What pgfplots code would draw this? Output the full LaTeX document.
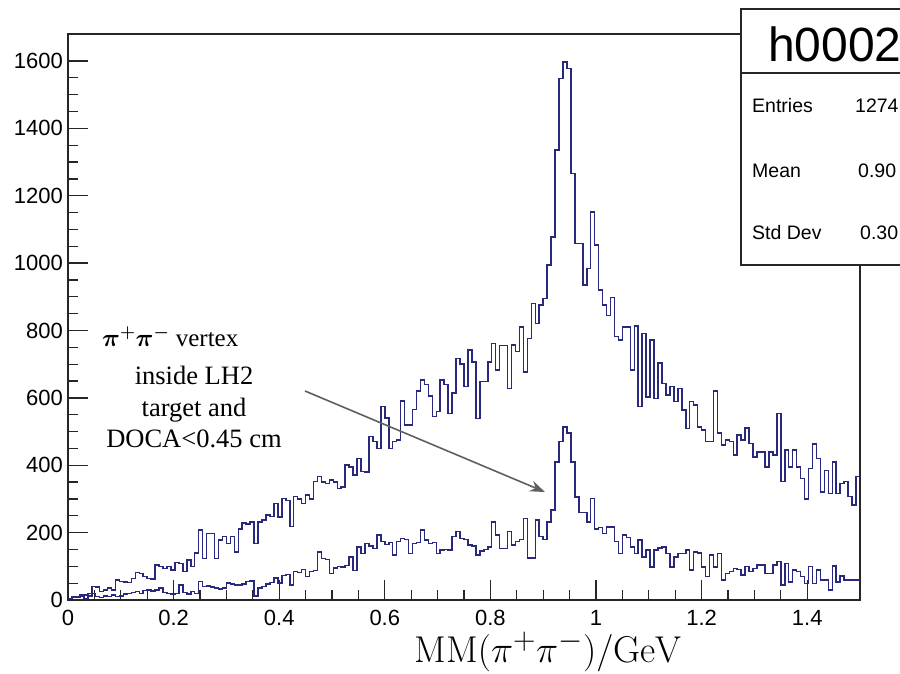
\documentclass[border=0pt]{standalone}
\usepackage{fontspec}
\usepackage{graphicx}
\usepackage{pgfplots}
\usepackage{pgfplotstable}
\pgfplotsset{compat=1.18}
\usetikzlibrary{arrows.meta}
\newfontfamily\arial{Liberation Sans}
\newfontfamily\serifnote{Liberation Serif}
\definecolor{histblue}{RGB}{40,40,125}
\definecolor{arrowgray}{RGB}{95,95,95}

\pgfplotstableread{
x a b
0 5 5
0.0075 8 10
0.015 10 8
0.0225 12 15
0.03 15 5
0.0375 20 12
0.045 40 20
0.0525 38 10
0.06 25 8
0.0675 30 12
0.075 35 10
0.0825 30 15
0.09 59 10
0.0975 55 12
0.105 54 18
0.1125 52 20
0.12 64 22
0.1275 81 25
0.135 78 20
0.1425 69 28
0.15 64 30
0.1575 62 26
0.165 104 30
0.1725 100 35
0.18 94 22
0.1875 99 20
0.195 89 18
0.2025 111 20
0.21 108 45
0.2175 85 22
0.225 119 18
0.2325 100 25
0.24 140 20
0.2475 208 55
0.255 123 40
0.2625 198 42
0.27 198 38
0.2775 123 35
0.285 178 33
0.2925 188 36
0.3 168 50
0.3075 188 48
0.315 143 45
0.3225 210 44
0.33 228 47
0.3375 225 55
0.345 232 57
0.3525 168 12
0.36 232 35
0.3675 238 40
0.375 252 48
0.3825 248 52
0.39 287 65
0.3975 247 50
0.405 302 72
0.4125 295 75
0.42 218 45
0.4275 307 85
0.435 300 82
0.4425 287 90
0.45 312 70
0.4575 300 85
0.465 351 88
0.4725 366 143
0.48 350 123
0.4875 346 120
0.495 356 78
0.5025 350 95
0.51 331 100
0.5175 335 98
0.525 400 102
0.5325 395 128
0.54 371 88
0.5475 420 158
0.555 381 138
0.5625 380 168
0.57 485 160
0.5775 470 153
0.585 450 193
0.5925 574 173
0.6 540 165
0.6075 450 170
0.615 470 133
0.6225 475 173
0.63 590 183
0.6375 520 180
0.645 520 138
0.6525 565 168
0.66 620 170
0.6675 653 208
0.675 640 178
0.6825 605 168
0.69 544 170
0.6975 560 138
0.705 653 148
0.7125 640 150
0.72 554 149
0.7275 614 188
0.735 717 203
0.7425 700 183
0.75 633 180
0.7575 742 163
0.765 706 160
0.7725 539 134
0.78 648 145
0.7875 648 150
0.795 706 158
0.8025 762 232
0.81 683 193
0.8175 755 153
0.825 755 153
0.8325 628 203
0.84 757 163
0.8475 737 173
0.855 811 180
0.8625 677 242
0.87 776 124
0.8775 880 124
0.885 821 237
0.8925 875 188
0.9 895 180
0.9075 994 232
0.915 1078 267
0.9225 1335 410
0.93 1548 470
0.9375 1597 514
0.945 1578 496
0.9525 1266 410
0.96 1058 306
0.9675 1058 259
0.975 935 259
0.9825 984 232
0.99 1152 302
0.9975 1053 210
1.005 920 215
1.0125 875 198
1.02 845 217
1.0275 898 217
1.035 782 173
1.0425 772 138
1.05 811 193
1.0575 811 185
1.065 682 158
1.0725 813 138
1.08 574 178
1.0875 791 128
1.095 603 148
1.1025 772 98
1.11 598 148
1.1175 704 155
1.125 643 158
1.1325 608 138
1.14 633 98
1.1475 589 128
1.155 628 138
1.1625 564 138
1.17 509 148
1.1775 589 89
1.185 579 143
1.1925 514 140
1.2 504 98
1.2075 470 69
1.215 470 134
1.2225 621 98
1.23 495 138
1.2375 460 59
1.245 475 79
1.2525 470 84
1.26 430 94
1.2675 490 90
1.275 475 74
1.2825 510 99
1.29 465 84
1.2975 425 94
1.305 440 104
1.3125 440 104
1.32 395 79
1.3275 440 79
1.335 430 104
1.3425 554 114
1.35 351 45
1.3575 445 109
1.365 395 54
1.3725 445 89
1.38 395 85
1.3875 361 69
1.395 300 49
1.4025 390 99
1.41 463 49
1.4175 420 89
1.425 321 59
1.4325 385 59
1.44 316 30
1.4475 410 101
1.455 316 54
1.4625 346 71
1.47 351 59
1.4775 307 59
1.485 282 59
1.4925 366 59
1.5 366 59
}\histdata

\begin{document}
\begin{tikzpicture}[x=1pt,y=1pt]
\useasboundingbox (0,0) rectangle (900,674);
\begin{axis}[
  at={(68pt,74pt)}, anchor=south west,
  scale only axis, width=792pt, height=566pt,
  xmin=0, xmax=1.5, ymin=0, ymax=1680,
  xtick={0,0.2,0.4,0.6,0.8,1,1.2,1.4},
  ytick={0,200,400,600,800,1000,1200,1400,1600},
  minor x tick num=3, minor y tick num=3,
  tick align=inside, tick pos=left,
  major tick length=20pt, minor tick length=10pt,
  axis line style={line width=1.6pt, black!85},
  every tick/.style={line width=1.3pt, black!85},
  tick label style={font=\arial\fontsize{22}{25}\selectfont},
  /pgf/number format/assume math mode=true,
  /pgf/number format/1000 sep={},
  scaled ticks=false,
  xticklabel style={inner sep=0pt, anchor=north, yshift=-10pt},
  yticklabel style={inner sep=0pt, anchor=east, xshift=-5pt},
]
\addplot[const plot, histblue, line width=1.5pt, mark=none] table[x=x,y=a]{\histdata};
\addplot[const plot, histblue, line width=1.5pt, mark=none] table[x=x,y=b]{\histdata};
\end{axis}

\draw[arrowgray, line width=1.6pt, -{Stealth[length=15pt,width=11pt]}] (305,283) -- (545,182);

\node[anchor=base west, inner sep=0pt, font=\serifnote\fontsize{26}{29}\selectfont] at (102,327) {\fontsize{25}{28}\selectfont{\boldmath$\pi^{+}\pi^{-}$} \serifnote vertex};
\node[anchor=base, inner sep=0pt, font=\serifnote\fontsize{26.5}{30}\selectfont] at (194,289) {inside LH2};
\node[anchor=base, inner sep=0pt, font=\serifnote\fontsize{26.5}{30}\selectfont] at (194,257) {target and};
\node[anchor=base, inner sep=0pt, font=\serifnote\fontsize{26.5}{30}\selectfont] at (194,226) {DOCA<0.45 cm};

\node[anchor=base, inner sep=0pt] at (548,11) {\scalebox{1.5}{\fontsize{24.88}{28}\selectfont $\mathrm{MM}(\pi^{+}\pi^{-})/\mathrm{GeV}$}};

\begin{scope}
\clip (0,0) rectangle (900,674);
\draw[line width=1.5pt, black!85, fill=white] (741,409) rectangle (930,665);
\draw[line width=1.5pt, black!85] (741,601) -- (930,601);
\node[anchor=base west, inner sep=0pt, font=\arial\fontsize{48}{52}\selectfont] at (768,612) {h0002};
\node[anchor=base west, inner sep=0pt, font=\arial\fontsize{19.5}{22}\selectfont] at (752,561) {Entries};
\node[anchor=base west, inner sep=0pt, font=\arial\fontsize{19.5}{22}\selectfont] at (855,561) {1274};
\node[anchor=base west, inner sep=0pt, font=\arial\fontsize{19.5}{22}\selectfont] at (752,496) {Mean};
\node[anchor=base west, inner sep=0pt, font=\arial\fontsize{19.5}{22}\selectfont] at (858,496) {0.90};
\node[anchor=base west, inner sep=0pt, font=\arial\fontsize{19.5}{22}\selectfont] at (752,434) {Std Dev};
\node[anchor=base west, inner sep=0pt, font=\arial\fontsize{19.5}{22}\selectfont] at (860,434) {0.30};
\end{scope}
\end{tikzpicture}
\end{document}
